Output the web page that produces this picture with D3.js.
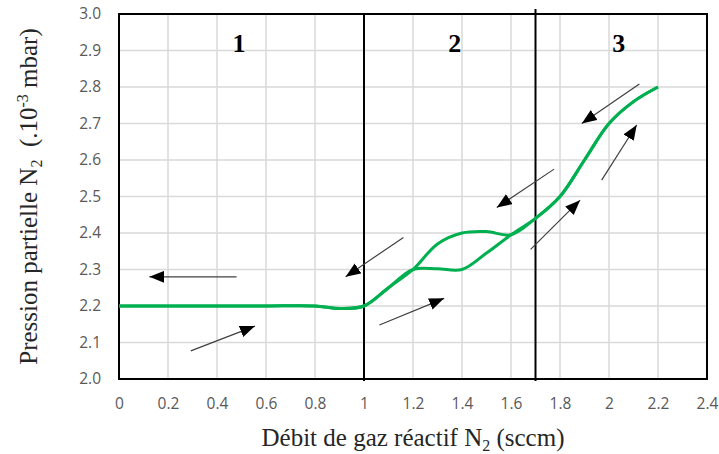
<!DOCTYPE html>
<html>
<head>
<meta charset="utf-8">
<script src="https://cdn.jsdelivr.net/npm/d3@7"></script>
<style>
  body { margin: 0; background: #fff; }
  .tick text { font-family: "Open Sans", sans-serif; font-size: 15.5px; fill: #595959; }
  .title { font-family: "Liberation Serif", "Times New Roman", serif; font-size: 25px; fill: #262626; }
  .zone { font-family: "Liberation Serif", "Times New Roman", serif; font-size: 26px; font-weight: bold; fill: #000; }
</style>
</head>
<body>
<script>
(function () {

    //flow values (sccm) and pressures for both branches of the hysteresis
    var flow = [0, 0.2, 0.4, 0.6, 0.8, 0.9, 1.0, 1.1, 1.2, 1.3, 1.4, 1.5, 1.6, 1.7, 1.8, 1.9, 2.0, 2.1, 2.2];
    var pressureUp = [2.2, 2.2, 2.2, 2.2, 2.2, 2.193, 2.2, 2.25, 2.3, 2.302, 2.3, 2.345, 2.395, 2.44, 2.5, 2.6, 2.7, 2.76, 2.8];
    var pressureDown = [2.2, 2.2, 2.2, 2.2, 2.2, 2.193, 2.2, 2.25, 2.3, 2.37, 2.4, 2.404, 2.395, 2.44, 2.5, 2.6, 2.7, 2.76, 2.8];

    //axis ticks
    var xTicks = [0, 0.2, 0.4, 0.6, 0.8, 1, 1.2, 1.4, 1.6, 1.8, 2, 2.2, 2.4];
    var yTicks = [2.0, 2.1, 2.2, 2.3, 2.4, 2.5, 2.6, 2.7, 2.8, 2.9, 3.0];

    //zone boundaries and labels
    var zoneLines = [1, 1.7];
    var zoneLabels = ["1", "2", "3"];
    var zoneLabelX = [0.49, 1.37, 2.04];

    //arrows [x1, y1, x2 (tip), y2 (tip)] in data units
    var arrows = [
        [0.48, 2.28, 0.124, 2.28],
        [0.293, 2.077, 0.555, 2.145],
        [1.161, 2.388, 0.925, 2.28],
        [1.063, 2.148, 1.327, 2.221],
        [1.776, 2.575, 1.542, 2.47],
        [1.68, 2.355, 1.882, 2.49],
        [1.97, 2.545, 2.113, 2.696],
        [2.124, 2.808, 1.889, 2.70]
    ];

    var width = 719, height = 454;
    var margin = { top: 14, right: 12, bottom: 75, left: 119 };

    var svg = d3.select("body").append("svg")
        .attr("width", width)
        .attr("height", height);

    var x = d3.scaleLinear().domain([0, 2.4]).range([margin.left, width - margin.right]);
    var y = d3.scaleLinear().domain([2.0, 3.0]).range([height - margin.bottom, margin.top]);

    //gridlines
    svg.append("g").selectAll("line").data(xTicks.slice(1, -1)).enter().append("line")
        .attr("x1", function (d) { return x(d); })
        .attr("x2", function (d) { return x(d); })
        .attr("y1", y(2.0)).attr("y2", y(3.0))
        .attr("stroke", "#d9d9d9").attr("stroke-width", 1.5);
    svg.append("g").selectAll("line").data(yTicks.slice(1, -1)).enter().append("line")
        .attr("x1", x(0)).attr("x2", x(2.4))
        .attr("y1", function (d) { return y(d); })
        .attr("y2", function (d) { return y(d); })
        .attr("stroke", "#d9d9d9").attr("stroke-width", 1.5);

    //axes (labels only)
    var xAxis = svg.append("g")
        .attr("transform", "translate(0," + (height - margin.bottom + 16) + ")")
        .call(d3.axisBottom(x).tickValues(xTicks).tickSize(0).tickFormat(d3.format("")));
    var yAxis = svg.append("g")
        .attr("transform", "translate(" + (margin.left - 10) + ",0)")
        .call(d3.axisLeft(y).tickValues(yTicks).tickSize(0).tickFormat(d3.format(".1f")));
    xAxis.select(".domain").remove();
    yAxis.select(".domain").remove();
    xAxis.selectAll("text").attr("dy", "0.71em");
    yAxis.selectAll("text").attr("x", -8);

    //frame
    svg.append("rect")
        .attr("x", x(0)).attr("y", y(3.0))
        .attr("width", x(2.4) - x(0)).attr("height", y(2.0) - y(3.0))
        .attr("fill", "none").attr("stroke", "#000").attr("stroke-width", 2);

    //zone separators
    svg.append("g").selectAll("line").data(zoneLines).enter().append("line")
        .attr("x1", function (d) { return x(d); })
        .attr("x2", function (d) { return x(d); })
        .attr("y1", function (d, i) { return y(3.0) - (i == 1 ? 5 : 0); })
        .attr("y2", y(2.0) + 2)
        .attr("stroke", "#000").attr("stroke-width", 2);

    svg.append("g").selectAll("text").data(zoneLabels).enter().append("text")
        .attr("class", "zone")
        .attr("x", function (d, i) { return x(zoneLabelX[i]); })
        .attr("y", y(2.895))
        .attr("text-anchor", "middle")
        .text(function (d) { return d; });

    //curves
    var line = d3.line()
        .x(function (d) { return x(d[0]); })
        .y(function (d) { return y(d[1]); })
        .curve(d3.curveCatmullRom.alpha(0.5));

    [pressureUp, pressureDown].forEach(function (series) {
        svg.append("path")
            .datum(flow.map(function (f, i) { return [f, series[i]]; }))
            .attr("d", line)
            .attr("fill", "none")
            .attr("stroke", "#00b050")
            .attr("stroke-width", 3);
    });

    //arrows
    svg.append("defs").append("marker")
        .attr("id", "head")
        .attr("viewBox", "0 0 15 12")
        .attr("refX", 15).attr("refY", 6)
        .attr("markerWidth", 15).attr("markerHeight", 12)
        .attr("markerUnits", "userSpaceOnUse")
        .attr("orient", "auto")
        .append("path")
        .attr("d", "M0,0L15,6L0,12Z")
        .attr("fill", "#000");

    svg.append("g").selectAll("line").data(arrows).enter().append("line")
        .attr("x1", function (d) { return x(d[0]); })
        .attr("y1", function (d) { return y(d[1]); })
        .attr("x2", function (d) { return x(d[2]); })
        .attr("y2", function (d) { return y(d[3]); })
        .attr("stroke", "#404040").attr("stroke-width", 1.2)
        .attr("marker-end", "url(#head)");

    //axis titles
    var xt = svg.append("text").attr("class", "title")
        .attr("x", (x(0) + x(2.4)) / 2).attr("y", 446)
        .attr("text-anchor", "middle");
    xt.append("tspan").text("Débit de gaz réactif N");
    xt.append("tspan").attr("font-size", "16px").attr("dy", 5).text("2");
    xt.append("tspan").attr("dy", -5).text(" (sccm)");

    var yt = svg.append("text").attr("class", "title")
        .attr("transform", "translate(37," + ((y(2.0) + y(3.0)) / 2) + ") rotate(-90)")
        .attr("text-anchor", "middle");
    yt.append("tspan").text("Pression partielle N");
    yt.append("tspan").attr("font-size", "16px").attr("dy", 5).text("2");
    yt.append("tspan").attr("dy", -5).text("\u00a0 (.10");
    yt.append("tspan").attr("font-size", "16px").attr("dy", -9).text("-3");
    yt.append("tspan").attr("dy", 9).text(" mbar)");

})();
</script>
</body>
</html>
